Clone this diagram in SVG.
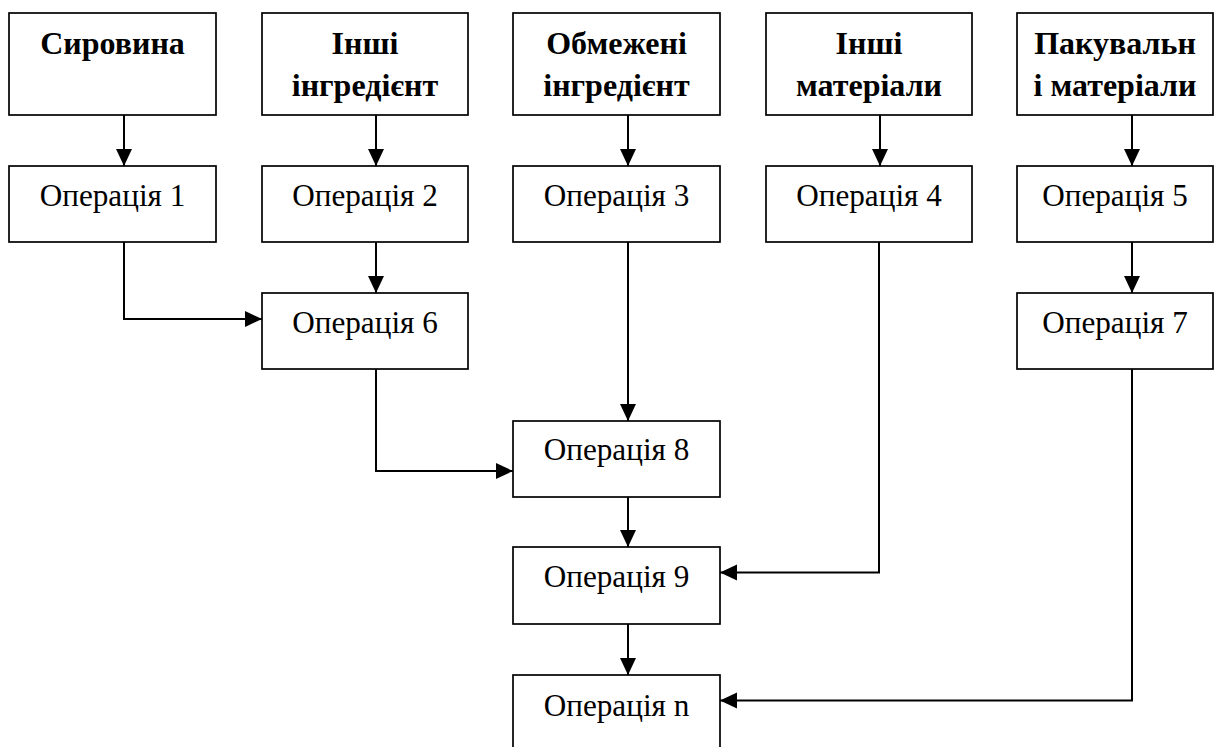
<svg xmlns="http://www.w3.org/2000/svg" width="1214" height="747" viewBox="0 0 1214 747">
<style>
.box{fill:#fff;stroke:#000;stroke-width:1.7}
.hd{font-family:'Liberation Serif','Times New Roman',serif;font-weight:bold;font-size:32px;text-anchor:middle;fill:#000}
.op{font-family:'Liberation Serif','Times New Roman',serif;font-size:31.2px;text-anchor:middle;fill:#000}
.cn{fill:none;stroke:#000;stroke-width:2;marker-end:url(#ah)}
</style>
<defs>
<marker id="ah" markerUnits="userSpaceOnUse" markerWidth="17" markerHeight="16" refX="17" refY="8" orient="auto" overflow="visible">
<path d="M0,0 L17,8 L0,16 Z" fill="#000"/>
</marker>
</defs>
<rect width="1214" height="747" fill="#fff"/>
<g id="n-syrovyna"><rect class="box" x="9" y="13" width="207" height="102"/><text class="hd" x="112.5" y="54">Сировина</text></g>
<g id="n-inshi-ingr"><rect class="box" x="262" y="13" width="206" height="102"/><text class="hd" x="365" y="54">Інші</text><text class="hd" x="365" y="96">інгредієнт</text></g>
<g id="n-obmezheni"><rect class="box" x="513" y="13" width="207" height="102"/><text class="hd" x="616.5" y="54">Обмежені</text><text class="hd" x="616.5" y="96">інгредієнт</text></g>
<g id="n-inshi-mat"><rect class="box" x="766" y="13" width="206" height="102"/><text class="hd" x="869" y="54">Інші</text><text class="hd" x="869" y="96">матеріали</text></g>
<g id="n-pakuv"><rect class="box" x="1017" y="13" width="196" height="102"/><text class="hd" x="1115" y="54">Пакувальн</text><text class="hd" x="1115" y="96">і матеріали</text></g>
<g id="n-op1"><rect class="box" x="9" y="166" width="207" height="76"/><text class="op" x="112.5" y="206">Операція 1</text></g>
<g id="n-op2"><rect class="box" x="262" y="166" width="206" height="76"/><text class="op" x="365" y="206">Операція 2</text></g>
<g id="n-op3"><rect class="box" x="513" y="166" width="207" height="76"/><text class="op" x="616.5" y="206">Операція 3</text></g>
<g id="n-op4"><rect class="box" x="766" y="166" width="206" height="76"/><text class="op" x="869" y="206">Операція 4</text></g>
<g id="n-op5"><rect class="box" x="1017" y="166" width="196" height="76"/><text class="op" x="1115" y="206">Операція 5</text></g>
<g id="n-op6"><rect class="box" x="262" y="293" width="206" height="76"/><text class="op" x="365" y="333">Операція 6</text></g>
<g id="n-op7"><rect class="box" x="1017" y="293" width="196" height="76"/><text class="op" x="1115" y="333">Операція 7</text></g>
<g id="n-op8"><rect class="box" x="513" y="421" width="207" height="76"/><text class="op" x="616.5" y="460">Операція 8</text></g>
<g id="n-op9"><rect class="box" x="513" y="547" width="207" height="77"/><text class="op" x="616.5" y="587">Операція 9</text></g>
<g id="n-opn"><rect class="box" x="513" y="675" width="207" height="100"/><text class="op" x="616.5" y="716">Операція n</text></g>
<g id="connectors">
<path class="cn" d="M124,115 V166"/>
<path class="cn" d="M376,115 V166"/>
<path class="cn" d="M628,115 V166"/>
<path class="cn" d="M880,115 V166"/>
<path class="cn" d="M1132,115 V166"/>
<path class="cn" d="M124,242 V319 H262"/>
<path class="cn" d="M376,242 V293"/>
<path class="cn" d="M1132,242 V293"/>
<path class="cn" d="M376,369 V471 H513"/>
<path class="cn" d="M628,242 V421"/>
<path class="cn" d="M628,497 V547"/>
<path class="cn" d="M879,242 V572.5 H720"/>
<path class="cn" d="M628,624 V675"/>
<path class="cn" d="M1132,369 V700.5 H720"/>
</g>
</svg>
